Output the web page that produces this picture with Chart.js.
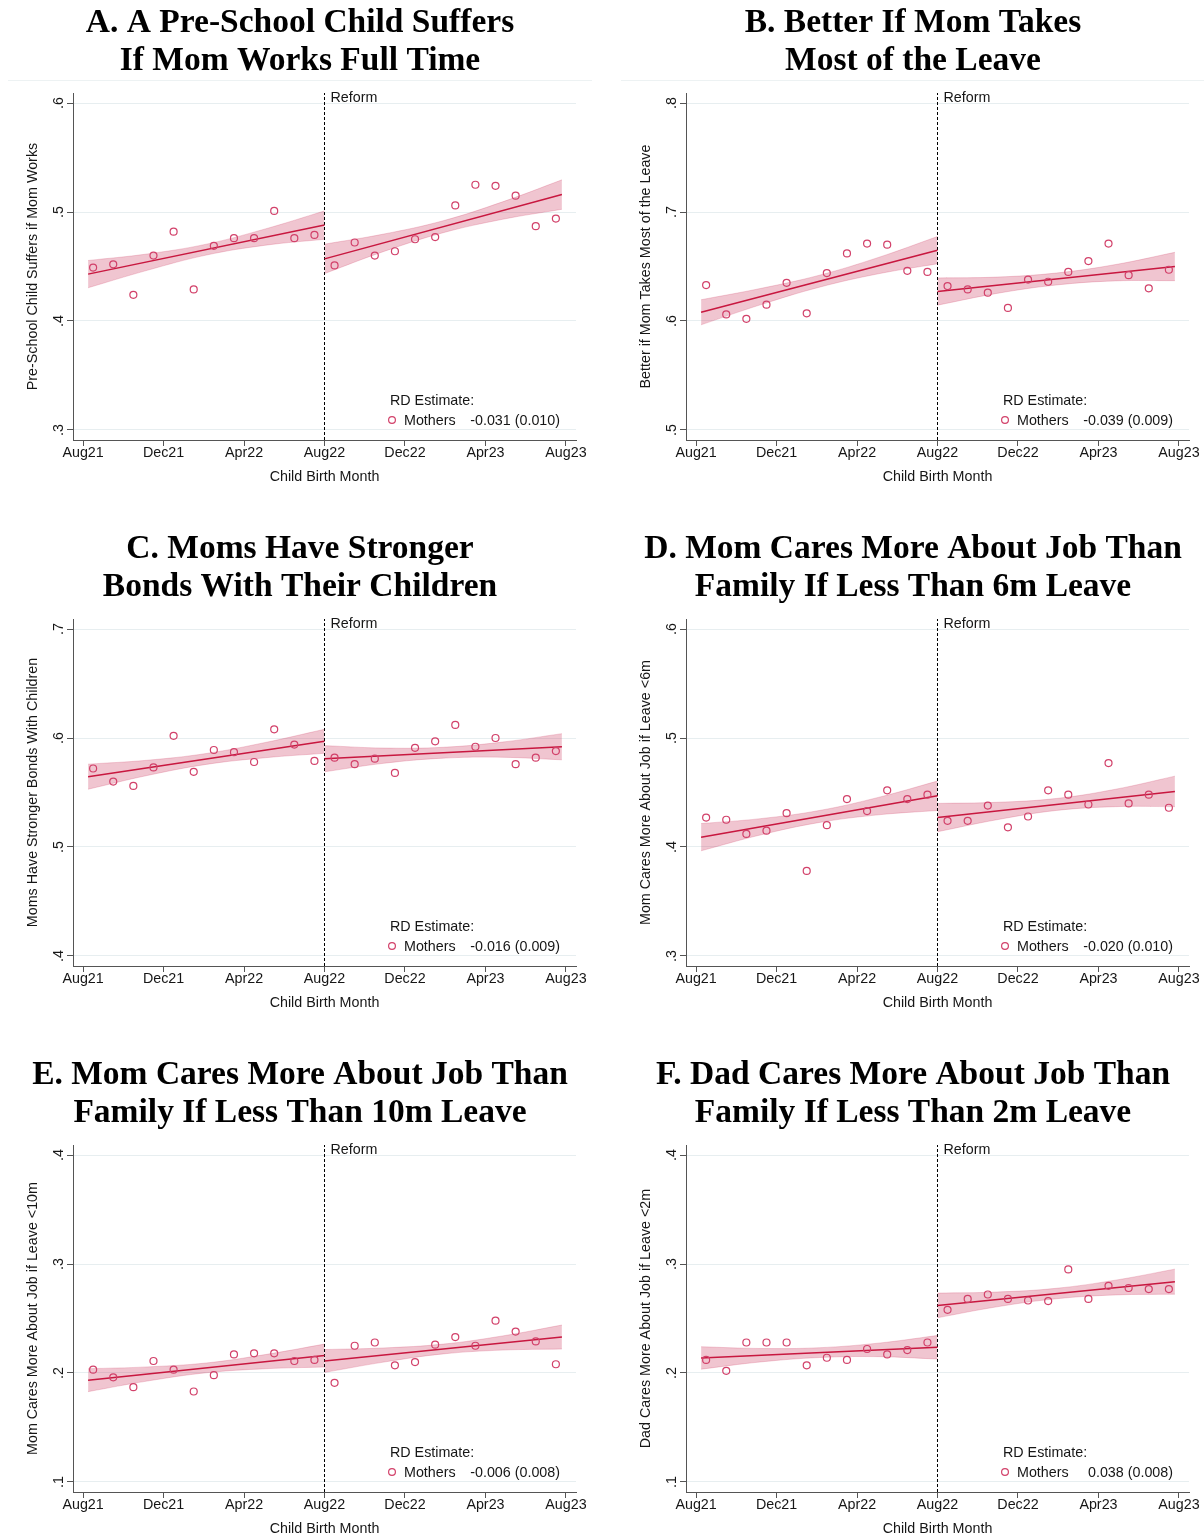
<!DOCTYPE html>
<html>
<head>
<meta charset="utf-8">
<title>Attitudes by child birth month</title>
<script src="https://cdn.jsdelivr.net/npm/chart.js@4.4.1/dist/chart.umd.min.js"></script>
<style>
  html, body { margin: 0; padding: 0; background: #fff; overflow: hidden; }
  #grid { position: relative; width: 1204px; height: 1536px; overflow: hidden; }
  #grid canvas { position: absolute; }
</style>
</head>
<body>
<div id="grid"></div>
<script>
// ---------------- DATA ----------------
// months since Aug21, points sit mid-month
const monthPos = [0.5, 1.5, 2.5, 3.5, 4.5, 5.5, 6.5, 7.5, 8.5, 9.5, 10.5, 11.5,
                  12.5, 13.5, 14.5, 15.5, 16.5, 17.5, 18.5, 19.5, 20.5, 21.5, 22.5, 23.5];
const xTickVals = [0, 4, 8, 12, 16, 20, 24];
const xTickLabels = ["Aug21", "Dec21", "Apr22", "Aug22", "Dec22", "Apr23", "Aug23"];
const reformMonth = 12;

// fitted line ends: pre start, pre end, post start, post end
const fitX = [0.25, 12, 12, 23.8];
// where the confidence band is sampled (pre, then post)
const bandXPre = [0.25, 3.19, 6.13, 9.06, 12];
const bandXPost = [12, 14.95, 17.9, 20.85, 23.8];

const titles = [
  ["A. A Pre-School Child Suffers", "If Mom Works Full Time"],
  ["B. Better If Mom Takes", "Most of the Leave"],
  ["C. Moms Have Stronger", "Bonds With Their Children"],
  ["D. Mom Cares More About Job Than", "Family If Less Than 6m Leave"],
  ["E. Mom Cares More About Job Than", "Family If Less Than 10m Leave"],
  ["F. Dad Cares More About Job Than", "Family If Less Than 2m Leave"],
];
const yTitles = [
  "Pre-School Child Suffers if Mom Works",
  "Better if Mom Takes Most of the Leave",
  "Moms Have Stronger Bonds With Children",
  "Mom Cares More About Job if Leave <6m",
  "Mom Cares More About Job if Leave <10m",
  "Dad Cares More About Job if Leave <2m",
];
const rdEstimates = ["-0.031 (0.010)", "-0.039 (0.009)", "-0.016 (0.009)",
                     "-0.020 (0.010)", "-0.006 (0.008)", "0.038 (0.008)"];

const yTicksA = [0.3, 0.4, 0.5, 0.6];
const yTicksB = [0.5, 0.6, 0.7, 0.8];
const yTicksC = [0.4, 0.5, 0.6, 0.7];
const yTicksD = [0.3, 0.4, 0.5, 0.6];
const yTicksE = [0.1, 0.2, 0.3, 0.4];
const yTicksF = [0.1, 0.2, 0.3, 0.4];

const meansA = [0.449, 0.452, 0.424, 0.460, 0.482, 0.429, 0.469, 0.476, 0.476, 0.501, 0.476, 0.479,
                0.451, 0.472, 0.460, 0.464, 0.475, 0.477, 0.506, 0.525, 0.524, 0.515, 0.487, 0.494];
const meansB = [0.633, 0.606, 0.602, 0.615, 0.635, 0.607, 0.644, 0.662, 0.671, 0.670, 0.646, 0.645,
                0.632, 0.629, 0.626, 0.612, 0.638, 0.636, 0.645, 0.655, 0.671, 0.642, 0.630, 0.647];
const meansC = [0.572, 0.560, 0.556, 0.573, 0.602, 0.569, 0.589, 0.587, 0.578, 0.608, 0.594, 0.579,
                0.582, 0.576, 0.581, 0.568, 0.591, 0.597, 0.612, 0.592, 0.600, 0.576, 0.582, 0.588];
const meansD = [0.427, 0.425, 0.412, 0.415, 0.431, 0.378, 0.420, 0.444, 0.433, 0.452, 0.444, 0.448,
                0.424, 0.424, 0.438, 0.418, 0.428, 0.452, 0.448, 0.439, 0.477, 0.440, 0.448, 0.436];
const meansE = [0.203, 0.196, 0.187, 0.211, 0.203, 0.183, 0.198, 0.217, 0.218, 0.218, 0.211, 0.212,
                0.191, 0.225, 0.228, 0.207, 0.210, 0.226, 0.233, 0.225, 0.248, 0.238, 0.229, 0.208];
const meansF = [0.212, 0.202, 0.228, 0.228, 0.228, 0.207, 0.214, 0.212, 0.222, 0.217, 0.221, 0.228,
                0.258, 0.268, 0.272, 0.268, 0.2665, 0.266, 0.295, 0.268, 0.280, 0.278, 0.277, 0.277];

const fitA = [0.443, 0.488, 0.457, 0.516];
const fitB = [0.608, 0.665, 0.627, 0.650];
const fitC = [0.5645, 0.597, 0.581, 0.592];
const fitD = [0.409, 0.447, 0.427, 0.451];
const fitE = [0.1934, 0.216, 0.211, 0.233];
const fitF = [0.2138, 0.2236, 0.262, 0.2838];

// 95% band, 5 pre values then 5 post values
const bandLoA = [0.4305, 0.4465, 0.4605, 0.4695, 0.475, 0.4435, 0.4638, 0.481, 0.4933, 0.5025];
const bandHiA = [0.4555, 0.4615, 0.4705, 0.4845, 0.501, 0.4705, 0.4798, 0.492, 0.5093, 0.5295];
const bandLoB = [0.5965, 0.6148, 0.631, 0.6433, 0.6525, 0.6145, 0.6253, 0.633, 0.6368, 0.637];
const bandHiB = [0.6195, 0.6298, 0.642, 0.6583, 0.6775, 0.6395, 0.6403, 0.644, 0.6518, 0.663];
const bandLoC = [0.553, 0.5656, 0.5758, 0.5819, 0.586, 0.569, 0.5768, 0.5815, 0.5823, 0.580];
const bandHiC = [0.576, 0.5796, 0.5858, 0.5959, 0.608, 0.593, 0.5908, 0.5915, 0.5963, 0.604];
const bandLoD = [0.3965, 0.411, 0.4225, 0.4295, 0.4335, 0.414, 0.425, 0.4335, 0.437, 0.437];
const bandHiD = [0.4215, 0.426, 0.4335, 0.4455, 0.4605, 0.440, 0.441, 0.4445, 0.453, 0.465];
const bandLoE = [0.1829, 0.1926, 0.2002, 0.2039, 0.2055, 0.2005, 0.210, 0.2175, 0.221, 0.222];
const bandHiE = [0.2039, 0.2056, 0.2092, 0.2169, 0.2265, 0.2215, 0.223, 0.2265, 0.234, 0.244];
const bandLoF = [0.2035, 0.2101, 0.2142, 0.215, 0.2128, 0.2507, 0.2607, 0.2681, 0.2716, 0.2723];
const bandHiF = [0.2241, 0.2225, 0.2232, 0.2274, 0.2344, 0.2733, 0.2743, 0.2777, 0.2852, 0.2953];

// ---------------- STYLE ----------------
const SANS = '"Liberation Sans", Arial, sans-serif';
const SERIF = '"Liberation Serif", "Times New Roman", serif';
const TEXT = "#161616";
const AXIS = "#555";
const GRID = "#e7eef0";
const LINE = "#c8173f";
const MARK = "#d2416a";
const BAND_FILL = "rgba(200, 40, 80, 0.27)";
const BAND_EDGE = "rgba(200, 40, 80, 0.35)";

const panels = [
  { yTicks: yTicksA, means: meansA, fit: fitA, lo: bandLoA, hi: bandHiA },
  { yTicks: yTicksB, means: meansB, fit: fitB, lo: bandLoB, hi: bandHiB },
  { yTicks: yTicksC, means: meansC, fit: fitC, lo: bandLoC, hi: bandHiC },
  { yTicks: yTicksD, means: meansD, fit: fitD, lo: bandLoD, hi: bandHiD },
  { yTicks: yTicksE, means: meansE, fit: fitE, lo: bandLoE, hi: bandHiE },
  { yTicks: yTicksF, means: meansF, fit: fitF, lo: bandLoF, hi: bandHiF },
];

// titles, rotated y labels, reform note and the RD legend
const overlay = {
  id: "overlay",
  afterDraw(chart, args, o) {
    const { ctx, chartArea, scales: { x, y } } = chart;
    ctx.save();

    ctx.fillStyle = "#000";
    ctx.font = "bold 33.5px " + SERIF;
    ctx.textAlign = "center";
    ctx.textBaseline = "alphabetic";
    o.title.forEach((line, i) => ctx.fillText(line, 300, 32 + i * 38));

    if (o.rule) {
      ctx.strokeStyle = "#edf2f3";
      ctx.lineWidth = 1;
      ctx.beginPath();
      ctx.moveTo(8, 80.5);
      ctx.lineTo(592, 80.5);
      ctx.stroke();
    }

    ctx.fillStyle = TEXT;
    ctx.font = "14.3px " + SANS;
    y.ticks.forEach(t => {
      ctx.save();
      ctx.translate(chartArea.left - 10, y.getPixelForValue(t.value));
      ctx.rotate(-Math.PI / 2);
      ctx.textAlign = "center";
      ctx.fillText(t.value.toFixed(1).replace(/^0/, ""), 0, 0);
      ctx.restore();
    });

    ctx.textAlign = "left";
    ctx.fillText("Reform", x.getPixelForValue(reformMonth) + 6, chartArea.top + 9);

    const lx = chartArea.left + 317;
    ctx.fillText("RD Estimate:", lx, chartArea.bottom - 35);
    ctx.fillText("Mothers", lx + 14, chartArea.bottom - 15);
    ctx.textAlign = "right";
    ctx.fillText(o.rd, chartArea.left + 487, chartArea.bottom - 15);
    ctx.strokeStyle = MARK;
    ctx.lineWidth = 1.2;
    ctx.beginPath();
    ctx.arc(lx + 2, chartArea.bottom - 20, 3.4, 0, Math.PI * 2);
    ctx.stroke();

    ctx.restore();
  }
};

function bandSet(xs, ys, fill) {
  return {
    data: xs.map((x, i) => ({ x, y: ys[i] })),
    borderColor: BAND_EDGE,
    borderWidth: 0.6,
    backgroundColor: BAND_FILL,
    pointRadius: 0,
    tension: 0.4,
    fill,
    order: 3,
  };
}

function lineSet(pts, extra) {
  return Object.assign({
    data: pts,
    borderColor: LINE,
    borderWidth: 1.5,
    pointRadius: 0,
    fill: false,
    order: 1,
  }, extra);
}

const grid = document.getElementById("grid");

panels.forEach((p, i) => {
  const col = i % 2, row = Math.floor(i / 2);
  const w = col ? 591 : 613, h = 526;
  const canvas = document.createElement("canvas");
  canvas.width = w;
  canvas.height = h;
  canvas.style.left = col * 613 + "px";
  canvas.style.top = row * 526 + "px";
  canvas.style.width = w + "px";
  canvas.style.height = h + "px";
  grid.appendChild(canvas);

  const yMin = p.yTicks[0] - 0.0092;
  const yMax = p.yTicks[p.yTicks.length - 1] + 0.0092;

  const datasets = [
    bandSet(bandXPre, p.hi.slice(0, 5), false),
    bandSet(bandXPre, p.lo.slice(0, 5), "-1"),
    bandSet(bandXPost, p.hi.slice(5), false),
    bandSet(bandXPost, p.lo.slice(5), "-1"),
    lineSet([{ x: fitX[0], y: p.fit[0] }, { x: fitX[1], y: p.fit[1] }]),
    lineSet([{ x: fitX[2], y: p.fit[2] }, { x: fitX[3], y: p.fit[3] }]),
    lineSet([{ x: reformMonth, y: yMin }, { x: reformMonth, y: yMax }],
            { borderColor: "#000", borderWidth: 1, borderDash: [3, 2], order: 2 }),
    {
      data: p.means.map((v, k) => ({ x: monthPos[k], y: v })),
      showLine: false,
      pointStyle: "circle",
      pointRadius: 3.5,
      pointBorderWidth: 1.2,
      pointBorderColor: MARK,
      pointBackgroundColor: "rgba(0,0,0,0)",
      borderColor: MARK,
      order: 0,
    },
  ];

  new Chart(canvas, {
    type: "line",
    data: { datasets },
    options: {
      responsive: false,
      animation: false,
      devicePixelRatio: 1,
      events: [],
      layout: { padding: { left: 0, top: 93, right: w - 576, bottom: 0 } },
      plugins: {
        legend: { display: false },
        tooltip: { enabled: false },
        overlay: { title: titles[i], rd: rdEstimates[i], rule: row === 0 },
      },
      scales: {
        x: {
          type: "linear",
          min: -0.5,
          max: 24.5,
          afterFit: s => { s.height = 86; },
          afterBuildTicks: s => { s.ticks = xTickVals.map(v => ({ value: v })); },
          ticks: {
            autoSkip: false,
            maxRotation: 0,
            padding: -2,
            color: TEXT,
            font: { family: SANS, size: 14.3 },
            callback: v => xTickLabels[xTickVals.indexOf(v)],
          },
          grid: { drawOnChartArea: false, drawTicks: true, tickLength: 6, tickColor: AXIS },
          border: { color: AXIS, width: 1 },
          title: {
            display: true,
            text: "Child Birth Month",
            color: TEXT,
            font: { family: SANS, size: 14.3 },
            padding: { top: 0, bottom: 40.6 },
          },
        },
        y: {
          type: "linear",
          min: yMin,
          max: yMax,
          afterFit: s => { s.width = 73; },
          afterBuildTicks: s => { s.ticks = p.yTicks.map(v => ({ value: v })); },
          ticks: { display: false },
          grid: { color: GRID, lineWidth: 1, drawTicks: true, tickLength: 6, tickColor: AXIS },
          border: { color: AXIS, width: 1 },
          title: {
            display: true,
            text: yTitles[i],
            color: TEXT,
            font: { family: SANS, size: 14.3 },
            padding: { top: 24.4, bottom: 0 },
          },
        },
      },
    },
    plugins: [overlay],
  });
});
</script>
</body>
</html>
